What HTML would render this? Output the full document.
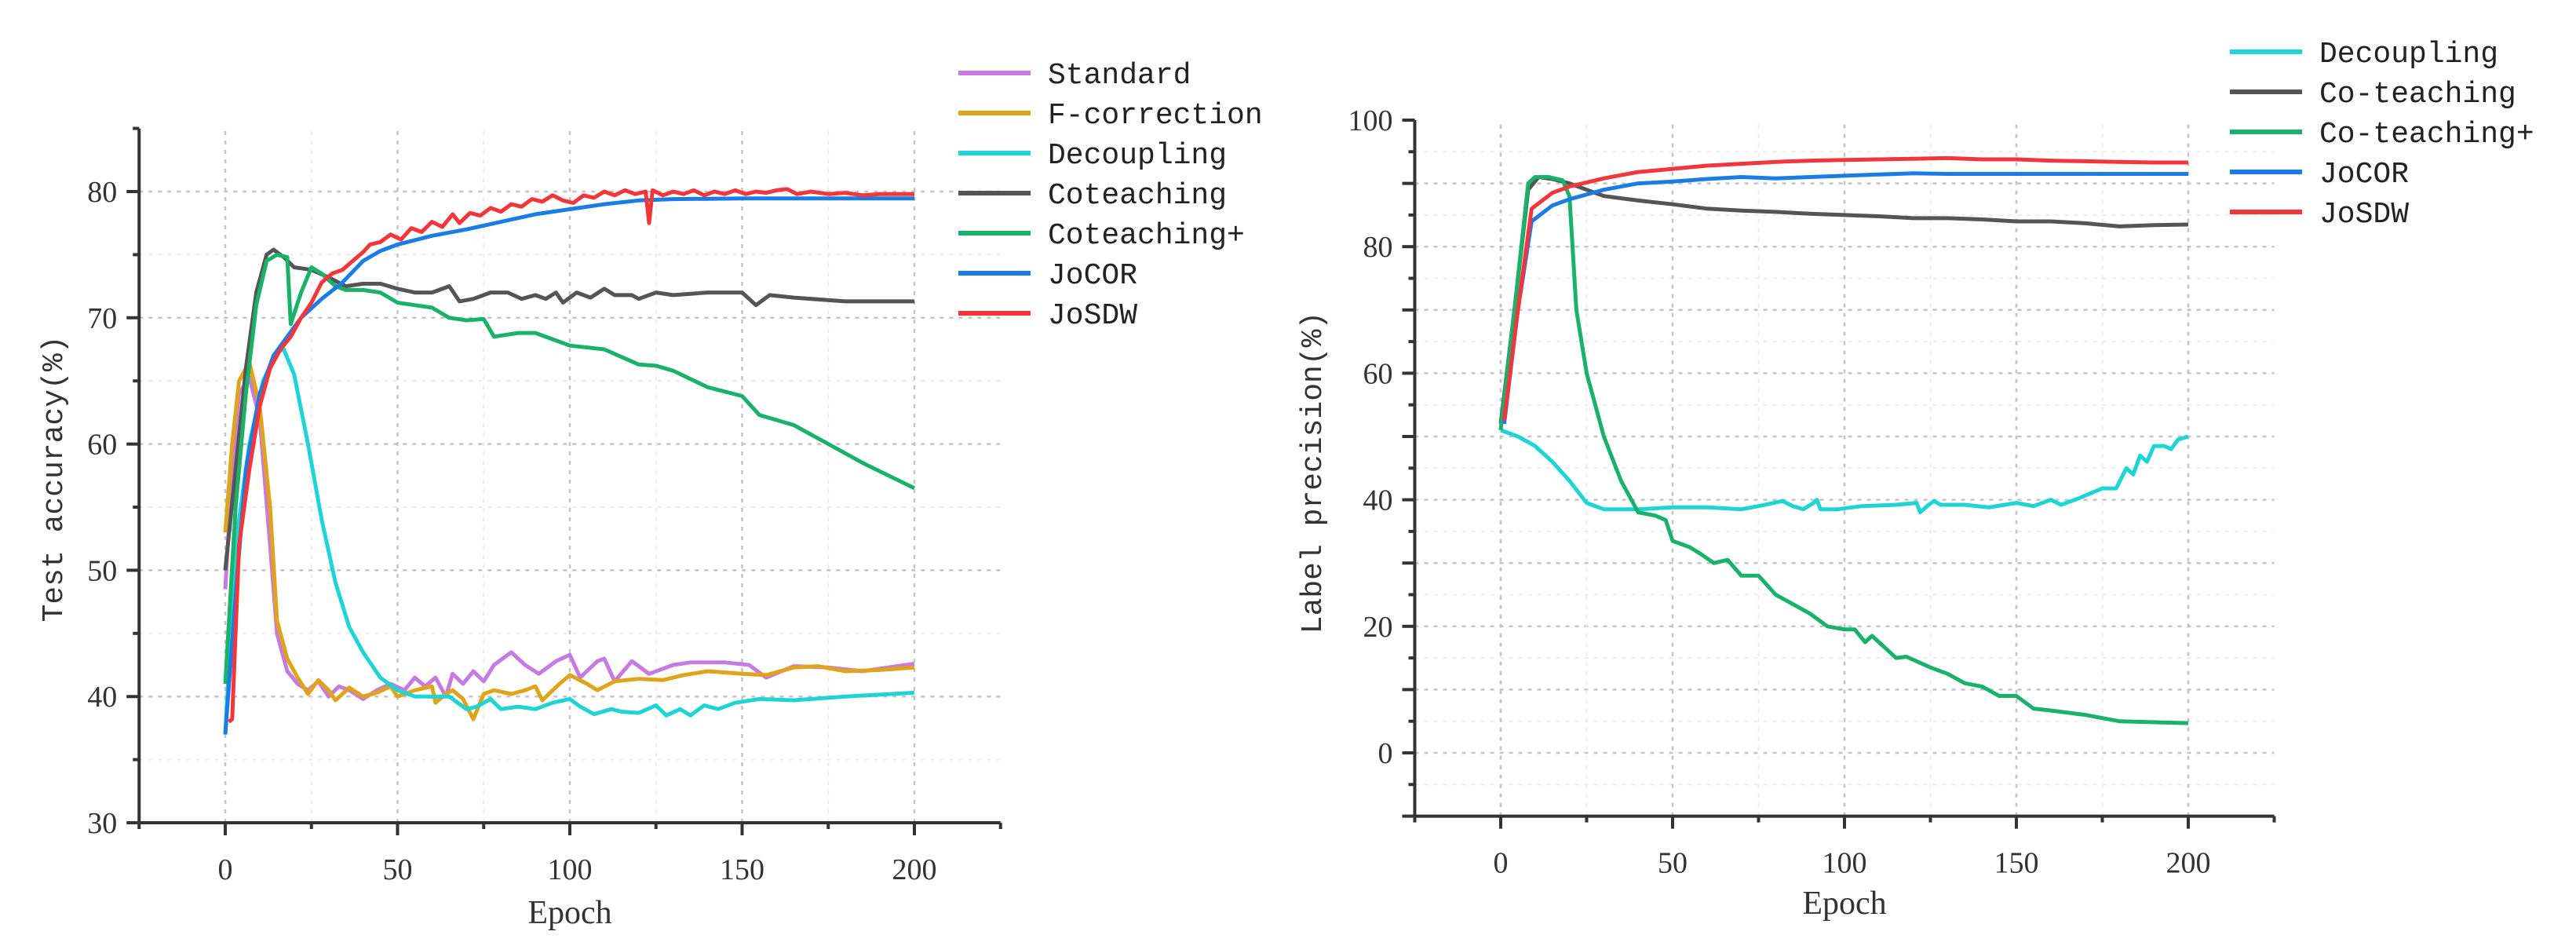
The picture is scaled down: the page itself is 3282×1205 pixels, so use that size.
<!DOCTYPE html>
<html><head><meta charset="utf-8"><style>
html,body{margin:0;padding:0;background:#fff;}
svg{display:block;}
.tk{font-family:"Liberation Serif",serif;font-size:38px;fill:#333;}
.lg{font-family:"Liberation Mono",monospace;font-size:38px;fill:#222;}
.ttl{font-family:"Liberation Serif",serif;font-size:42px;fill:#333;}
.ttlm{font-family:"Liberation Mono",monospace;font-size:38px;fill:#333;}
</style></head><body>
<svg id="chart" width="3282" height="1205" viewBox="0 0 3282 1205" xmlns="http://www.w3.org/2000/svg"></svg>
<script>
// ---- Left chart data (Test accuracy) ----
const leftNames = ["Standard","F-correction","Decoupling","Coteaching","Coteaching+","JoCOR","JoSDW"];
const leftColors = ["#c77be0","#e0a41a","#1fd4d4","#555555","#1ab26a","#1a7de6","#f2363c"];
const leftStandard = [[0,48.5],[2,58],[4,64],[7,65.3],[10,62],[13,52],[15,45],[18,42],[21,41],[24,40.5],[27,41.2],[30,40],[33,40.8],[36,40.5],[40,39.8],[44,40.5],[48,41],[52,40.5],[55,41.5],[58,40.8],[61,41.5],[64,40],[66,41.8],[69,41],[72,42],[75,41.2],[78,42.5],[83,43.5],[87,42.5],[91,41.8],[96,42.8],[100,43.3],[103,41.5],[108,42.8],[110,43],[113,41.2],[118,42.8],[123,41.8],[130,42.5],[135,42.7],[145,42.7],[152,42.5],[157,41.5],[165,42.4],[175,42.3],[185,42],[200,42.6]];
const leftFcorr = [[0,53],[2,60],[4,65],[7,66.5],[10,63],[13,55],[15,46],[18,43],[21,41.5],[24,40.2],[27,41.3],[30,40.5],[32,39.7],[36,40.7],[40,40],[44,40.3],[48,40.8],[50,40],[55,40.5],[60,40.8],[61,39.5],[64,40.2],[66,40.5],[69,39.8],[72,38.2],[75,40.2],[78,40.5],[83,40.2],[87,40.5],[90,40.8],[92,39.7],[97,41],[100,41.7],[105,41],[108,40.5],[113,41.2],[120,41.4],[127,41.3],[133,41.7],[140,42],[150,41.8],[157,41.7],[165,42.3],[172,42.4],[180,42],[190,42.1],[200,42.3]];
const leftDecoup = [[0,37],[3,52],[7,60],[11,65],[15,67.3],[17,67.5],[20,65.5],[24,60],[28,54],[32,49],[36,45.5],[40,43.5],[45,41.5],[50,40.5],[55,40],[60,40],[65,40],[70,39],[73,39.2],[77,39.8],[80,39],[85,39.2],[90,39],[95,39.5],[100,39.8],[103,39.2],[107,38.6],[112,39],[115,38.8],[120,38.7],[125,39.3],[128,38.5],[132,39],[135,38.5],[139,39.3],[143,39],[148,39.5],[155,39.8],[165,39.7],[180,40],[200,40.3]];
const leftCotea = [[0,50],[3,58],[6,66],[9,72],[12,75],[14,75.4],[17,74.8],[20,74],[25,73.8],[30,73.2],[35,72.5],[40,72.7],[45,72.7],[50,72.3],[55,72],[60,72],[65,72.5],[68,71.3],[72,71.5],[77,72],[82,72],[86,71.5],[90,71.8],[93,71.5],[96,72],[98,71.2],[102,72],[106,71.6],[110,72.3],[113,71.8],[118,71.8],[120,71.5],[125,72],[130,71.8],[140,72],[150,72],[154,71],[158,71.8],[165,71.6],[180,71.3],[200,71.3]];
const leftCoteaPlus = [[0,41],[3,55],[6,64],[9,71],[12,74.5],[15,75],[18,74.8],[19,69.5],[22,72],[25,74],[28,73.5],[32,72.5],[35,72.2],[40,72.2],[45,72],[50,71.2],[55,71],[60,70.8],[65,70],[70,69.8],[75,69.9],[78,68.5],[85,68.8],[90,68.8],[95,68.3],[100,67.8],[110,67.5],[120,66.3],[125,66.2],[130,65.8],[140,64.5],[150,63.8],[155,62.3],[165,61.5],[175,60],[185,58.5],[200,56.5]];
const leftJoCOR = [[0,37],[3,48],[6,58],[10,64],[14,67],[18,68.5],[22,70],[28,71.5],[34,72.8],[40,74.5],[45,75.3],[50,75.8],[60,76.5],[70,77],[80,77.6],[90,78.2],[100,78.6],[110,79],[120,79.3],[130,79.4],[150,79.45],[200,79.45]];
const leftJoSDW = [[1,38],[2,38.2],[4,52],[7,58],[10,63],[13,66],[16,67.5],[19,68.5],[22,70],[25,71.2],[28,72.8],[31,73.5],[34,73.8],[37,74.5],[40,75.2],[42,75.8],[45,76],[48,76.6],[51,76.2],[54,77.1],[57,76.8],[60,77.6],[63,77.2],[66,78.2],[68,77.5],[71,78.3],[74,78.1],[77,78.7],[80,78.4],[83,79],[86,78.8],[89,79.4],[92,79.2],[95,79.7],[98,79.3],[101,79.1],[104,79.7],[107,79.5],[110,80],[113,79.7],[116,80.1],[119,79.8],[122,80],[123,77.5],[124,80.1],[127,79.7],[130,80],[133,79.8],[136,80.1],[139,79.7],[142,80],[145,79.8],[148,80.1],[151,79.8],[154,80],[157,79.9],[160,80.1],[163,80.2],[166,79.8],[170,80],[175,79.8],[180,79.9],[185,79.7],[190,79.8],[195,79.8],[200,79.8]];
const leftYTicks = [30,40,50,60,70,80];
const xTicks = [0,50,100,150,200];

// ---- Right chart data (Label precision) ----
const rightNames = ["Decoupling","Co-teaching","Co-teaching+","JoCOR","JoSDW"];
const rightColors = ["#1fd4d4","#555555","#1ab26a","#1a7de6","#f2363c"];
const rightDecoup = [[0,51],[5,50],[10,48.5],[15,46],[20,43],[25,39.5],[30,38.5],[40,38.5],[50,38.8],[60,38.8],[70,38.5],[75,39],[82,39.8],[85,39],[88,38.5],[91,39.5],[92,40],[93,38.5],[98,38.5],[105,39],[115,39.2],[121,39.5],[122,38],[124,39],[126,39.8],[128,39.2],[135,39.2],[142,38.8],[150,39.5],[155,39],[160,40],[163,39.2],[168,40.2],[175,41.8],[179,41.8],[182,45],[184,44],[186,47],[188,46],[190,48.5],[193,48.5],[195,48],[197,49.5],[200,50]];
const rightCotea = [[0,52],[4,70],[8,89],[11,91],[15,90.7],[20,90],[25,89],[30,88],[40,87.3],[50,86.7],[60,86],[70,85.7],[80,85.5],[90,85.2],[100,85],[110,84.8],[120,84.5],[130,84.5],[140,84.3],[150,84],[160,84],[170,83.7],[180,83.2],[190,83.4],[200,83.5]];
const rightCoteaPlus = [[0,51],[4,70],[8,90],[10,91],[14,91],[18,90.5],[20,88],[22,70],[25,60],[30,50],[35,43],[40,38],[45,37.5],[48,36.8],[50,33.5],[55,32.5],[58,31.5],[62,30],[66,30.5],[70,28],[75,28],[80,25],[85,23.5],[90,22],[95,20],[100,19.5],[103,19.5],[106,17.5],[108,18.5],[112,16.5],[115,15],[118,15.2],[125,13.5],[130,12.5],[135,11],[140,10.5],[145,9],[150,9],[155,7],[160,6.7],[170,6],[175,5.5],[180,5],[200,4.7]];
const rightJoCOR = [[1,52],[5,70],[9,84],[15,86.5],[20,87.5],[30,89],[40,90],[50,90.3],[60,90.7],[70,91],[80,90.8],[90,91],[100,91.2],[110,91.4],[120,91.6],[130,91.5],[150,91.5],[200,91.5]];
const rightJoSDW = [[1,52.5],[5,70],[9,86],[15,88.5],[20,89.5],[30,90.8],[40,91.8],[50,92.3],[60,92.8],[70,93.1],[80,93.4],[90,93.6],[100,93.7],[110,93.8],[120,93.9],[130,94],[140,93.8],[150,93.8],[160,93.6],[170,93.5],[180,93.4],[190,93.3],[200,93.3]];
const rightYTicks = [0,20,40,60,80,100];

const NS = "http://www.w3.org/2000/svg";
const svg = document.getElementById("chart");
function mk(tag, attrs, parent){ const e=document.createElementNS(NS,tag); for(const k in attrs) e.setAttribute(k,attrs[k]); (parent||svg).appendChild(e); return e; }

function drawChart(cfg){
  const g = mk("g",{});
  
  
  const X = v => cfg.x0 + (v - 0) * (cfg.x200 - cfg.x0) / 200;
  const Y = v => cfg.yA + (v - cfg.vA) * (cfg.yB - cfg.yA) / (cfg.vB - cfg.vA);
  for(let v=cfg.yMin+5; v<=cfg.yMax; v+=5){
    const major = v % 10 === 0;
    const gl = mk("line",{x1:X(-25),x2:X(225),y1:Y(v),y2:Y(v),stroke: major?"#c4c4c4":"#ececec","stroke-width":major?2.5:2,"stroke-dasharray":"5,7"},g);
    
    
  }
  for(let v=0; v<=200; v+=25){
    const major = v % 50 === 0;
    const gl = mk("line",{x1:X(v),x2:X(v),y1:Y(cfg.yMin),y2:Y(cfg.yTop),stroke: major?"#c4c4c4":"#ececec","stroke-width":major?2.5:2,"stroke-dasharray":"5,7"},g);
    
    
  }
  const ax = mk("line",{x1:X(-25),x2:X(225),y1:Y(cfg.yMin),y2:Y(cfg.yMin),stroke:"#333","stroke-width":4},g);
  
  
  const ay = mk("line",{x1:X(-25),x2:X(-25),y1:Y(cfg.yMin),y2:Y(cfg.yTop),stroke:"#333","stroke-width":4},g);
  
  
  for(let v=-25; v<=225; v+=25){
    const major = v % 50 === 0;
    mk("line",{x1:X(v),x2:X(v),y1:Y(cfg.yMin),y2:Y(cfg.yMin)+(major?16:8),stroke:"#333","stroke-width":4},g);
  }
  for(let v=cfg.yMin; v<=cfg.yTop; v+=5){
    const major = v % 10 === 0;
    mk("line",{x1:X(-25)-(major?16:8),x2:X(-25),y1:Y(v),y2:Y(v),stroke:"#333","stroke-width":4},g);
  }
  xTicks.forEach(v=>{
    const t = mk("text",{x:X(v),y:Y(cfg.yMin)+72,"text-anchor":"middle",class:"tk"},g);
    t.textContent = v;
    
    
  });
  cfg.yTicks.forEach(v=>{
    const t = mk("text",{x:X(-25)-28,y:Y(v)+13,"text-anchor":"end",class:"tk"},g);
    t.textContent = v;
    
    
  });
  const xt = mk("text",{x:X(100),y:cfg.xTitleY,"text-anchor":"middle",class:"ttl"},g);
  xt.textContent = "Epoch";
  
  
  const yt = mk("text",{x:0,y:0,"text-anchor":"middle",class:"ttlm",transform:`translate(${cfg.yTitleX},${cfg.yTitleY}) rotate(-90)`},g);
  yt.textContent = cfg.yTitle;
  
  
  cfg.series.forEach((s,i)=>{
    const p = mk("polyline",{points:s.map(d=>X(d[0]).toFixed(1)+","+Y(d[1]).toFixed(1)).join(" "),fill:"none",stroke:cfg.colors[i],"stroke-width":5,"stroke-linejoin":"round"},g);
    
    
  });
  cfg.names.forEach((n,i)=>{
    const y = cfg.legY + i*cfg.legStep;
    const l = mk("line",{x1:cfg.legX,x2:cfg.legX+92,y1:y,y2:y,stroke:cfg.colors[i],"stroke-width":6},g);
    
    
    const t = mk("text",{x:cfg.legX+114,y:y+13,class:"lg"},g);
    t.textContent = n;
    
    
  });
}

drawChart({id:"left-chart",x0:287,x200:1165,yA:1048,vA:30,yB:244,vB:80,yMin:30,yMax:80,yTop:85,
  yTicks:leftYTicks,names:leftNames,colors:leftColors,
  series:[leftStandard,leftFcorr,leftDecoup,leftCotea,leftCoteaPlus,leftJoCOR,leftJoSDW],
  legX:1221,legY:93,legStep:51,xTitleY:1176,yTitleX:79,yTitleY:610,yTitle:"Test accuracy(%)"});
drawChart({id:"right-chart",x0:1912,x200:2788,yA:959,vA:0,yB:153,vB:100,yMin:-10,yMax:95,yTop:100,
  yTicks:rightYTicks,names:rightNames,colors:rightColors,
  series:[rightDecoup,rightCotea,rightCoteaPlus,rightJoCOR,rightJoSDW],
  legX:2841,legY:66,legStep:51,xTitleY:1164,yTitleX:1683,yTitleY:602,yTitle:"Label precision(%)"});
</script>
</body></html>
